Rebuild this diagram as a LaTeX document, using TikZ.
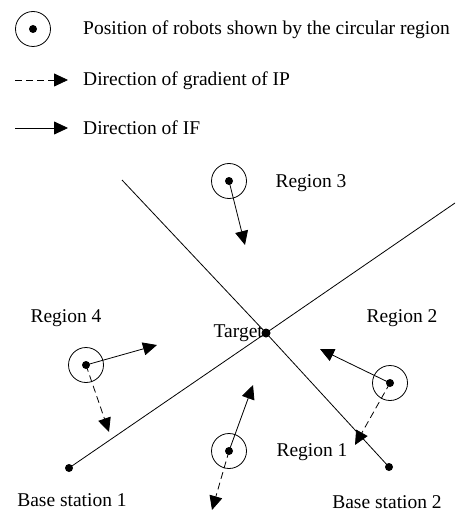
\documentclass[tikz,border=0pt]{standalone}
\usepackage{fontspec}
\setmainfont{Liberation Serif}
\usetikzlibrary{arrows.meta}
\begin{document}
\begin{tikzpicture}[x=1pt,y=-1pt,
  robot/.style={draw,circle,minimum size=35pt,inner sep=0pt,line width=0.8pt},
  dotnode/.style={fill,circle,minimum size=8pt,inner sep=0pt},
  lbl/.style={anchor=base,inner sep=0pt,font=\fontsize{19.5}{22}\selectfont},
  lbll/.style={lbl,anchor=base west},
  ifarrow/.style={line width=0.8pt,-{Triangle[length=14pt,width=13pt]}},
  iparrow/.style={ifarrow,dash pattern=on 7pt off 4pt},
  axisline/.style={line width=0.8pt}]
\useasboundingbox (0,0) rectangle (455,513);

% legend
\node[robot] (leg) at (33,29) {};
\node[dotnode] (legd) at (33,29) {};
\node[lbll] (legt1) at (83,35) {Position of robots shown by the circular region};
\coordinate (ipa) at (15,80);
\coordinate (ipb) at (68,80);
\draw[iparrow] (ipa) -- (ipb);
\node[lbll] (legt2) at (83,86) {Direction of gradient of IP};
\coordinate (ifa) at (15,128);
\coordinate (ifb) at (68,128);
\draw[ifarrow] (ifa) -- (ifb);
\node[lbll] (legt3) at (83,135) {Direction of IF};

% stations and target
\node[dotnode] (b1) at (69,468) {};
\node[dotnode] (b2) at (389,467) {};
\node[dotnode,minimum size=9pt] (tg) at (266,333) {};
\coordinate (endA) at (455,203);
\coordinate (startB) at (122,180);
\draw[axisline] (b1.center) -- (tg.center) -- (endA);
\draw[axisline] (startB) -- (tg.center) -- (b2.center);

% labels
\node[lbl,anchor=base east] (tgt) at (263,337) {Target};
\node[lbl] (reg3) at (311,187) {Region 3};
\node[lbl] (reg4) at (66,322) {Region 4};
\node[lbl] (reg2) at (402,322) {Region 2};
\node[lbl] (reg1) at (312,456) {Region 1};
\node[lbl] (bs1) at (72,506) {Base station 1};
\node[lbl] (bs2) at (387,508) {Base station 2};

% robots
\node[robot] (r3) at (229,181) {};
\node[dotnode] at (r3.center) {};
\node[robot] (r4) at (86,365) {};
\node[dotnode] at (r4.center) {};
\node[robot] (r2) at (390,383) {};
\node[dotnode] at (r2.center) {};
\node[robot] (r1) at (229,451) {};
\node[dotnode] at (r1.center) {};

\coordinate (t3) at (245,245);
\coordinate (t4f) at (157,345);
\coordinate (t4g) at (109,432);
\coordinate (t2f) at (320,349);
\coordinate (t2g) at (355,445);
\coordinate (t1f) at (253,385);
\coordinate (t1g) at (212,510);

\draw[ifarrow] (r3.center) -- (t3);
\draw[ifarrow] (r4.center) -- (t4f);
\draw[iparrow] (r4.center) -- (t4g);
\draw[ifarrow] (r2.center) -- (t2f);
\draw[iparrow] (r2.center) -- (t2g);
\draw[ifarrow] (r1.center) -- (t1f);
\draw[iparrow] (r1.center) -- (t1g);
\end{tikzpicture}
\end{document}
